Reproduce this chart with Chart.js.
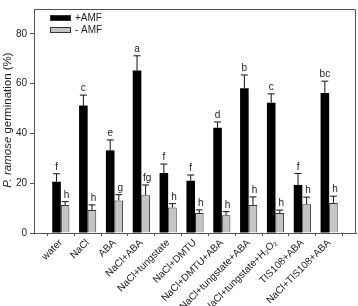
<!DOCTYPE html>
<html>
<head>
<meta charset="utf-8">
<script src="https://cdn.jsdelivr.net/npm/chart.js@4.4.0/dist/chart.umd.min.js"></script>
<style>
    html, body { margin: 0; padding: 0; background: #fff; }
    #wrap { width: 358px; height: 306px; }
</style>
</head>
<body>
<div id="wrap"><canvas id="germChart" width="358" height="306"></canvas></div>
<script>
//-----------------------------------------------------
// P. ramose germination, +AMF / -AMF
//-----------------------------------------------------

const categories = [
    "water", "NaCl", "ABA", "NaCl+ABA", "NaCl+tungstate", "NaCl+DMTU",
    "NaCl+DMTU+ABA", "NaCl+tungstate+ABA", "NaCl+tungstate+H\u2082O\u2082",
    "TIS108+ABA", "NaCl+TIS108+ABA"
];

const amfPlus    = [20.6, 51.2, 33.2, 65.3, 24.1, 21.0, 42.3, 58.2, 52.3, 19.3, 56.3];
const amfPlusSE  = [3.2, 4.2, 4.2, 5.9, 3.6, 2.3, 2.3, 5.3, 3.6, 4.6, 4.7];
const amfPlusLetters = ["f", "c", "e", "a", "f", "f", "d", "b", "c", "f", "bc"];

const amfMinus   = [11.3, 9.2, 13.1, 15.2, 10.2, 8.0, 7.1, 11.3, 8.0, 11.6, 12.1];
const amfMinusSE = [1.3, 2.1, 2.3, 4.1, 1.6, 1.3, 1.5, 3.2, 1.2, 2.8, 2.7];
const amfMinusLetters = ["h", "h", "g", "fg", "h", "h", "h", "h", "h", "h", "h"];

const yTicks = [0, 20, 40, 60, 80];

const FONT = "'Liberation Sans', Arial, sans-serif";

// error bars (upper whisker only) + significance letters
const errorBarPlugin = {
    id: 'errorBars',
    afterDatasetsDraw(chart) {
        const ctx = chart.ctx;
        const yScale = chart.scales.y;
        chart.data.datasets.forEach((ds, i) => {
            const meta = chart.getDatasetMeta(i);
            meta.data.forEach((bar, j) => {
                const top = yScale.getPixelForValue(ds.data[j].y + ds.se[j]);
                const yBar = yScale.getPixelForValue(ds.data[j].y);
                ctx.save();
                ctx.strokeStyle = '#111';
                ctx.lineWidth = 1;
                ctx.beginPath();
                ctx.moveTo(bar.x, yBar);
                ctx.lineTo(bar.x, top);
                ctx.moveTo(bar.x - 3.5, top);
                ctx.lineTo(bar.x + 3.5, top);
                ctx.stroke();
                ctx.fillStyle = '#222';
                ctx.font = "10px " + FONT;
                ctx.textAlign = 'center';
                ctx.textBaseline = 'alphabetic';
                const dx = i === 1 ? 1.5 : 0;
                ctx.fillText(ds.letters[j], bar.x + dx, top - 4);
                ctx.restore();
            });
        });
    }
};

// frame, legend and y title
const decorPlugin = {
    id: 'decor',
    afterDraw(chart) {
        const ctx = chart.ctx;
        const a = chart.chartArea;
        ctx.save();
        ctx.strokeStyle = '#555';
        ctx.lineWidth = 1;
        ctx.beginPath();
        ctx.moveTo(a.left, a.top + 0.5);
        ctx.lineTo(a.right - 0.5, a.top + 0.5);
        ctx.lineTo(a.right - 0.5, a.bottom);
        ctx.stroke();

        // legend
        const items = [
            { label: "+AMF", fill: '#000', y: 15 },
            { label: "- AMF", fill: '#c4c4c4', y: 27 }
        ];
        ctx.font = "10px " + FONT;
        ctx.textBaseline = 'middle';
        ctx.textAlign = 'left';
        items.forEach(it => {
            ctx.fillStyle = it.fill;
            ctx.fillRect(50, it.y, 21, 6);
            ctx.strokeStyle = '#333';
            ctx.strokeRect(50.5, it.y + 0.5, 20, 5);
            ctx.fillStyle = '#222';
            ctx.fillText(it.label, 75, it.y + 3.5);
        });

        // y axis title with italic species name
        ctx.translate(11, 120);
        ctx.rotate(-Math.PI / 2);
        ctx.textBaseline = 'alphabetic';
        const part1 = "P. ramose";
        const part2 = " germination (%)";
        ctx.font = "italic 11.5px " + FONT;
        const w1 = ctx.measureText(part1).width;
        ctx.font = "11.5px " + FONT;
        const w2 = ctx.measureText(part2).width;
        let x = -(w1 + w2) / 2;
        ctx.fillStyle = '#222';
        ctx.font = "italic 11.5px " + FONT;
        ctx.fillText(part1, x, 0);
        ctx.font = "11.5px " + FONT;
        ctx.fillText(part2, x + w1, 0);
        ctx.restore();
    }
};

const toPoints = (vals) => vals.map((v, i) => ({ x: i, y: v }));

new Chart(document.getElementById("germChart").getContext("2d"), {
    type: 'bar',
    data: {
        datasets: [
            {
                label: '+AMF', data: toPoints(amfPlus), se: amfPlusSE, letters: amfPlusLetters,
                backgroundColor: '#000', borderColor: '#000', borderWidth: 0,
                categoryPercentage: 0.64, barPercentage: 1.0
            },
            {
                label: '- AMF', data: toPoints(amfMinus), se: amfMinusSE, letters: amfMinusLetters,
                backgroundColor: '#c4c4c4', borderColor: '#333', borderWidth: 1,
                categoryPercentage: 0.64, barPercentage: 1.0
            }
        ]
    },
    options: {
        responsive: false,
        animation: false,
        layout: { padding: { top: 1, right: 2, left: 0, bottom: 0 } },
        plugins: {
            legend: { display: false },
            tooltip: { enabled: false }
        },
        scales: {
            x: {
                type: 'linear',
                min: -1,
                max: 11,
                offset: false,
                afterBuildTicks: (axis) => { axis.ticks = categories.map((c, i) => ({ value: i })); },
                afterFit: (axis) => { axis.height = 73; },
                border: { color: '#555', width: 1 },
                grid: { drawOnChartArea: false, drawTicks: true, tickLength: 3, color: '#555' },
                ticks: {
                    autoSkip: false,
                    minRotation: 45,
                    maxRotation: 45,
                    padding: 1,
                    color: '#222',
                    font: { family: FONT, size: 10 },
                    callback: (v) => categories[v]
                }
            },
            y: {
                min: 0,
                max: 90,
                afterBuildTicks: (axis) => { axis.ticks = yTicks.map(v => ({ value: v })); },
                afterFit: (axis) => { axis.width = 34; },
                border: { color: '#555', width: 1 },
                grid: { drawOnChartArea: false, drawTicks: true, tickLength: 4, color: '#555' },
                ticks: {
                    padding: 3,
                    color: '#222',
                    font: { family: FONT, size: 10 }
                }
            }
        }
    },
    plugins: [errorBarPlugin, decorPlugin]
});
</script>
</body>
</html>
